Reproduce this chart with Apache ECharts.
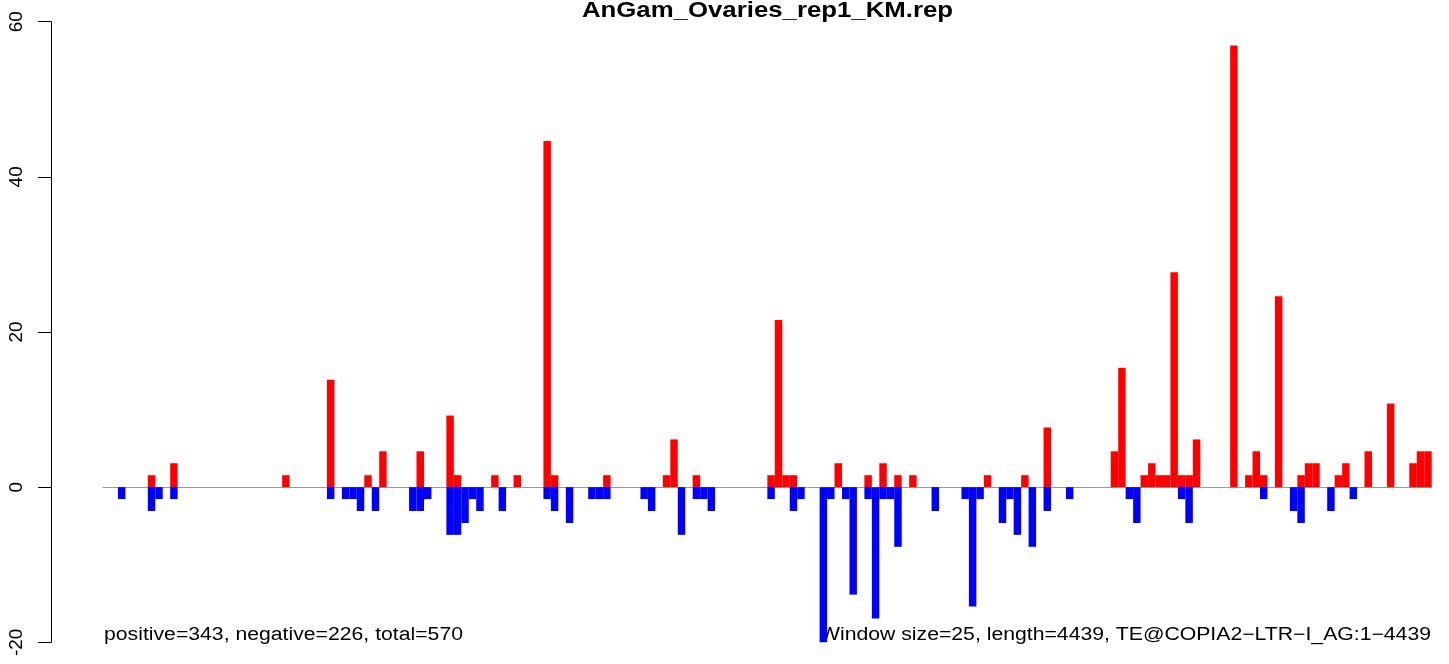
<!DOCTYPE html>
<html>
<head>
<meta charset="utf-8">
<script src="https://cdn.jsdelivr.net/npm/echarts@6/dist/echarts.min.js"></script>
<style>
html,body{margin:0;padding:0;background:#fff;}
#chart{width:1449px;height:664px;}
</style>
</head>
<body>
<div id="chart"></div>
<script>
// ---- data (one window = 25 nt, 178 windows) ----
const chartTitle = "AnGam_Ovaries_rep1_KM.rep";
const leftNote = "positive=343, negative=226, total=570";
const rightNote = "Window size=25, length=4439, TE@COPIA2\u2212LTR\u2212I_AG:1\u22124439";
const yTicks = [-20, 0, 20, 40, 60];

const positive = [
  0,0,0,0,0,0,1.54,0,0,3.08,
  0,0,0,0,0,0,0,0,0,0,
  0,0,0,0,1.54,0,0,0,0,0,
  13.85,0,0,0,0,1.54,0,4.62,0,0,
  0,0,4.62,0,0,0,9.23,1.54,0,0,
  0,0,1.54,0,0,1.54,0,0,0,44.62,
  1.54,0,0,0,0,0,0,1.54,0,0,
  0,0,0,0,0,1.54,6.15,0,0,1.54,
  0,0,0,0,0,0,0,0,0,1.54,
  21.54,1.54,1.54,0,0,0,0,0,3.08,0,
  0,0,1.54,0,3.08,0,1.54,0,1.54,0,
  0,0,0,0,0,0,0,0,1.54,0,
  0,0,0,1.54,0,0,7.69,0,0,0,
  0,0,0,0,0,4.62,15.38,0,0,1.54,
  3.08,1.54,1.54,27.69,1.54,1.54,6.15,0,0,0,
  0,56.92,0,1.54,4.62,1.54,0,24.62,0,0,
  1.54,3.08,3.08,0,0,1.54,3.08,0,0,4.62,
  0,0,10.77,0,0,3.08,4.62,4.62
];

const negative = [
  0,0,-1.54,0,0,0,-3.08,-1.54,0,-1.54,
  0,0,0,0,0,0,0,0,0,0,
  0,0,0,0,0,0,0,0,0,0,
  -1.54,0,-1.54,-1.54,-3.08,0,-3.08,0,0,0,
  0,-3.08,-3.08,-1.54,0,0,-6.15,-6.15,-4.62,-1.54,
  -3.08,0,0,-3.08,0,0,0,0,0,-1.54,
  -3.08,0,-4.62,0,0,-1.54,-1.54,-1.54,0,0,
  0,0,-1.54,-3.08,0,0,0,-6.15,0,-1.54,
  -1.54,-3.08,0,0,0,0,0,0,0,-1.54,
  0,0,-3.08,-1.54,0,0,-20,-1.54,0,-1.54,
  -13.85,0,-1.54,-16.92,-1.54,-1.54,-7.69,0,0,0,
  0,-3.08,0,0,0,-1.54,-15.38,-1.54,0,0,
  -4.62,-1.54,-6.15,0,-7.69,0,-3.08,0,0,-1.54,
  0,0,0,0,0,0,0,-1.54,-4.62,0,
  0,0,0,0,-1.54,-4.62,0,0,0,0,
  0,0,0,0,0,-1.54,0,0,0,-3.08,
  -4.62,0,0,0,-3.08,0,0,-1.54,0,0,
  0,0,0,0,0,0,0,0
];

const windows = positive.map((_, i) => String(i + 1));

const FONT = "Liberation Sans";
const STRETCH = 1.178;
const chart = echarts.init(document.getElementById('chart'), null, {renderer: 'canvas'});

chart.setOption({
  animation: false,
  backgroundColor: '#ffffff',
  grid: {left: 103, right: 17.3, top: 21.7, bottom: 21.7, containLabel: false},
  xAxis: {
    type: 'category',
    data: windows,
    boundaryGap: true,
    axisLine: {show: true, onZero: true, lineStyle: {color: '#9a9a9a', width: 1}},
    axisTick: {show: false},
    axisLabel: {show: false},
    splitLine: {show: false}
  },
  yAxis: {
    type: 'value',
    min: yTicks[0],
    max: yTicks[yTicks.length - 1],
    interval: yTicks[1] - yTicks[0],
    offset: 52,
    axisLine: {show: true, lineStyle: {color: '#000', width: 1}},
    axisTick: {show: true, length: 13, inside: false, lineStyle: {color: '#000', width: 1}},
    axisLabel: {
      show: true, rotate: 90, margin: 25,
      fontFamily: FONT, fontSize: 19, color: '#000'
    },
    splitLine: {show: false}
  },
  series: [
    {
      name: 'positive', type: 'bar', data: positive,
      barGap: '-100%', barCategoryGap: '0%',
      itemStyle: {color: '#ff0000'}, silent: true
    },
    {
      name: 'negative', type: 'bar', data: negative,
      barGap: '-100%', barCategoryGap: '0%',
      itemStyle: {color: '#0000ff'}, silent: true
    }
  ],
  graphic: [
    {
      type: 'text', x: 767.5, y: 11, scaleX: STRETCH,
      style: {text: chartTitle, fontFamily: FONT, fontWeight: 'bold', fontSize: 21.9,
              fill: '#000', align: 'center', verticalAlign: 'middle'}
    },
    {
      type: 'text', x: 104, y: 635, scaleX: STRETCH,
      style: {text: leftNote, fontFamily: FONT, fontSize: 18, fill: '#000',
              align: 'left', verticalAlign: 'middle'}
    },
    {
      type: 'text', x: 1431, y: 635, scaleX: STRETCH,
      style: {text: rightNote, fontFamily: FONT, fontSize: 18, fill: '#000',
              align: 'right', verticalAlign: 'middle'}
    }
  ]
});
</script>
</body>
</html>
